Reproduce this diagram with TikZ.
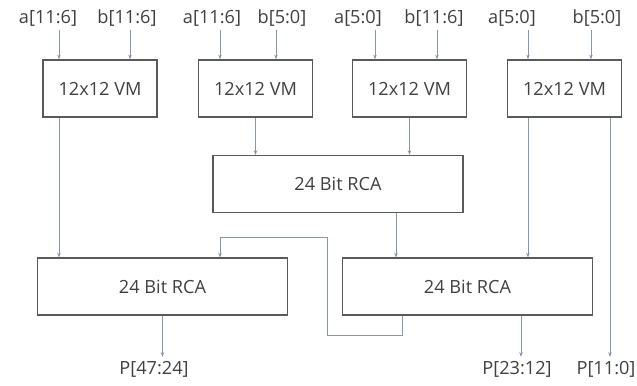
\documentclass[tikz,border=0pt]{standalone}
\usepackage{fontspec}
\setmainfont{Open Sans}
\usetikzlibrary{arrows.meta}
\definecolor{wirecol}{RGB}{135,150,168}
\definecolor{boxcol}{RGB}{90,90,90}
\definecolor{txtcol}{RGB}{64,64,64}

\begin{document}
\begin{tikzpicture}[x=0.03cm,y=-0.03cm,
  font=\fontsize{15.5}{18}\selectfont, text=txtcol,
  vm/.style={draw=boxcol,line width=1.2pt,minimum width=3.42cm,minimum height=1.71cm,inner sep=0pt},
  rca/.style={draw=boxcol,line width=1.2pt,minimum width=7.5cm,minimum height=1.7cm,inner sep=0pt},
  wire/.style={draw=wirecol,line width=0.8pt,-{Stealth[length=4pt,width=3pt]}}]
\useasboundingbox (0,0) rectangle (637,385);
% A) 12x12 multipliers
\node[vm] (vm1) at (100,88.5) {12x12 VM};
\node[vm] (vm2) at (255.5,88.5) {12x12 VM};
\node[vm] (vm3) at (409.5,88.5) {12x12 VM};
\node[vm] (vm4) at (564.5,88.5) {12x12 VM};
% B) operand inputs
\foreach \t/\lx/\wx/\b [count=\i] in {a[11:6]/48/59/vm1, b[11:6]/127/130/vm1,
    a[11:6]/212/220/vm2, b[5:0]/282/276/vm2, a[5:0]/358/375/vm3, b[11:6]/434/437/vm3,
    a[5:0]/512/528/vm4, b[5:0]/597/591/vm4}{
  \coordinate (w\i) at (\wx,0);
  \node (in\i) at (\lx,18) {\t};
  \draw[wire] (in\i.south -| w\i) -- (w\i |- \b.north);
}
% C) ripple carry adders
\node[rca] (rca1) at (338,184) {24 Bit RCA};
\node[rca] (rcaL) at (162.5,286.5) {24 Bit RCA};
\node[rca] (rcaR) at (467.5,286.5) {24 Bit RCA};
% D) products
\node (pL) at (154,369) {P[47:24]};
\node (pM) at (517,369) {P[23:12]};
\node (pR) at (606,369) {P[11:0]};
% E) wiring
\coordinate (x1) at (59,0); \coordinate (x2) at (396,0);
\coordinate (x3) at (528,0); \coordinate (x4) at (610,0);
\coordinate (x5) at (521,0);
\draw[wire] (vm1.south -| x1) -- (x1 |- rcaL.north);
\draw[wire] (vm2.south) -- (vm2.south |- rca1.north);
\draw[wire] (vm3.south) -- (vm3.south |- rca1.north);
\draw[wire] (rca1.south -| x2) -- (x2 |- rcaR.north);
\draw[wire] (vm4.south -| x3) -- (x3 |- rcaR.north);
\draw[wire] (vm4.south -| x4) -- (x4 |- pR.north);
\draw[wire] (rcaR.south -| x5) -- (x5 |- pM.north);
\draw[wire] (rcaL.south) -- (rcaL.south |- pL.north);
% carry back to left adder
\coordinate (cy1) at (402,335); \coordinate (cy2) at (327,237); \coordinate (cy3) at (220,237);
\draw[wire] (cy1 |- rcaR.south) -- (cy1) -| (cy2) -- (cy3) -- (cy3 |- rcaL.north);
\end{tikzpicture}
\end{document}
